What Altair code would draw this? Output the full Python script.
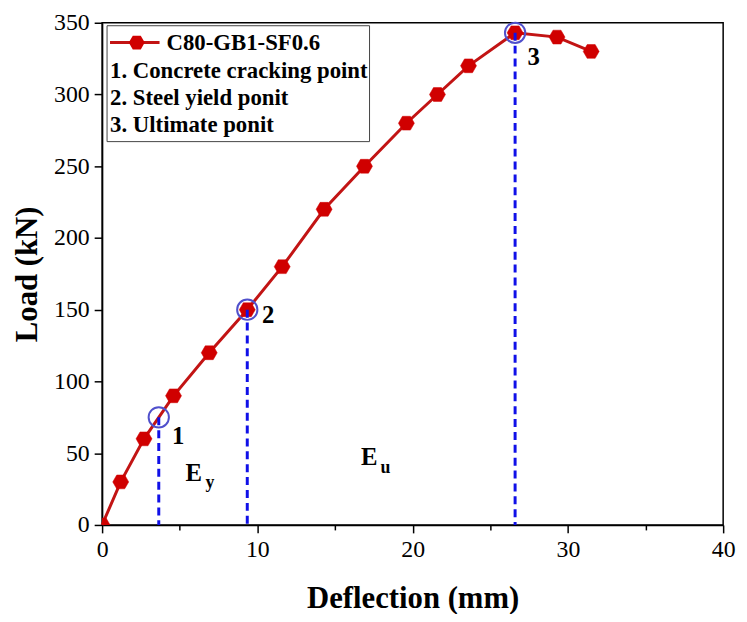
import altair as alt
import pandas as pd

# ---- data ----
deflection = [0, 1.2, 2.7, 4.6, 6.9, 9.35, 11.6, 14.3, 16.9, 19.6, 21.6, 23.6, 26.6, 29.3, 31.5]
load = [0, 30, 60, 90, 120, 150, 180, 220, 250, 280, 300, 320, 343, 340, 330]

key_x = [3.65, 9.35, 26.6]
key_y = [75, 150, 343]

ann_text = ["1", "2", "3", "E", "E"]
ann_x = [4.9, 10.7, 27.8, 5.9, 17.2]
ann_y = [62, 146, 326, 36, 47]

sub_text = ["y", "u"]
sub_x = [6.95, 18.25]
sub_y = [29, 40]

legend_series = "C80-GB1-SF0.6"
legend_notes = ["1. Concrete cracking point", "2. Steel yield ponit", "3. Ultimate ponit"]

x_ticks = list(range(0, 41, 5))
y_ticks = list(range(0, 351, 25))

FONT = "Liberation Serif"
LINE_RED = "#c21414"
MARK_RED = "#d00000"
CIRC_BLUE = "#5050cc"
DASH_BLUE = "#1010e8"
HEX = "M-1,0 L-0.5,-0.866 L0.5,-0.866 L1,0 L0.5,0.866 L-0.5,0.866 Z"

df = pd.DataFrame({"d": deflection, "l": load})
kp = pd.DataFrame({"d": key_x, "l": key_y, "z": [0, 0, 0]})
ann = pd.DataFrame({"d": ann_x, "l": ann_y, "t": ann_text})
sub = pd.DataFrame({"d": sub_x, "l": sub_y, "t": sub_text})
one = pd.DataFrame({"a": [0]})

xscale = alt.Scale(domain=[0, 40], nice=False, zero=False)
yscale = alt.Scale(domain=[0, 350], nice=False, zero=False)

xaxis = alt.Axis(
    title="Deflection (mm)",
    values=x_ticks,
    labelExpr="datum.value % 10 === 0 ? datum.label : ''",
    tickSize={"condition": {"test": "datum.value % 10 === 0", "value": 8}, "value": 5},
    labelFlush=False,
    labelOverlap=False,
    grid=False,
    labelPadding=5,
    titlePadding=22,
)
yaxis = alt.Axis(
    title="Load (kN)",
    values=y_ticks,
    labelExpr="datum.value % 50 === 0 ? datum.label : ''",
    tickSize={"condition": {"test": "datum.value % 50 === 0", "value": 8}, "value": 5},
    labelOverlap=False,
    grid=False,
    labelPadding=5,
    titlePadding=10,
)

X = alt.X("d:Q", scale=xscale, axis=xaxis)
Y = alt.Y("l:Q", scale=yscale, axis=yaxis)

line = alt.Chart(df).mark_line(color=LINE_RED, strokeWidth=3).encode(x=X, y=Y)
pts = alt.Chart(df).mark_point(
    shape=HEX, size=260, filled=True, fill=MARK_RED, opacity=1, stroke=MARK_RED, strokeWidth=0.5, clip=True
).encode(x=X, y=Y)

dash = alt.Chart(kp).mark_rule(color=DASH_BLUE, strokeWidth=3, strokeDash=[8, 5]).encode(
    x="d:Q", y="l:Q", y2="z:Q"
)
circ = alt.Chart(kp).mark_point(
    shape="circle", size=420, filled=False, color=CIRC_BLUE, strokeWidth=2, opacity=1
).encode(x="d:Q", y="l:Q")

anns = alt.Chart(ann).mark_text(
    font=FONT, fontSize=25, fontWeight="bold", color="black", align="center", baseline="middle"
).encode(x="d:Q", y="l:Q", text="t:N")
subs = alt.Chart(sub).mark_text(
    font=FONT, fontSize=18, fontWeight="bold", color="black", align="center", baseline="middle"
).encode(x="d:Q", y="l:Q", text="t:N")

# legend box
leg_box = alt.Chart(one).mark_rect(fill="white", stroke="#444444", strokeWidth=1).encode(
    x=alt.value(5), x2=alt.value(270), y=alt.value(3), y2=alt.value(120)
)
leg_line = alt.Chart(one).mark_rule(color=LINE_RED, strokeWidth=3).encode(
    x=alt.value(8), x2=alt.value(58), y=alt.value(20)
)
leg_pt = alt.Chart(one).mark_point(
    shape=HEX, size=260, filled=True, fill=MARK_RED, opacity=1
).encode(x=alt.value(35), y=alt.value(20))
leg_t0 = alt.Chart(one).mark_text(
    text=legend_series, font=FONT, fontSize=23, fontWeight="bold", color="black", align="left", baseline="middle"
).encode(x=alt.value(65), y=alt.value(21))
leg_texts = []
for i, s in enumerate(legend_notes):
    leg_texts.append(
        alt.Chart(one).mark_text(
            text=s, font=FONT, fontSize=23, fontWeight="bold", color="black", align="left", baseline="middle"
        ).encode(x=alt.value(8), y=alt.value(49 + 27 * i))
    )

chart = alt.layer(
    line, pts, dash, circ, anns, subs, leg_box, leg_line, leg_pt, leg_t0, *leg_texts
).properties(
    width=627,
    height=507,
    autosize=alt.AutoSizeParams(type="none"),
    padding={"left": 95, "top": 12, "right": 16, "bottom": 87},
).configure_view(
    stroke="black", strokeWidth=1.5
).configure_axis(
    domainColor="black",
    domainWidth=1.5,
    tickColor="black",
    tickWidth=1.5,
    labelFont=FONT,
    labelFontSize=24,
    labelColor="black",
    titleFont=FONT,
    titleFontSize=31,
    titleFontWeight="bold",
    titleColor="black",
)

chart.save("out.html", embed_options={"renderer": "svg", "actions": False})
